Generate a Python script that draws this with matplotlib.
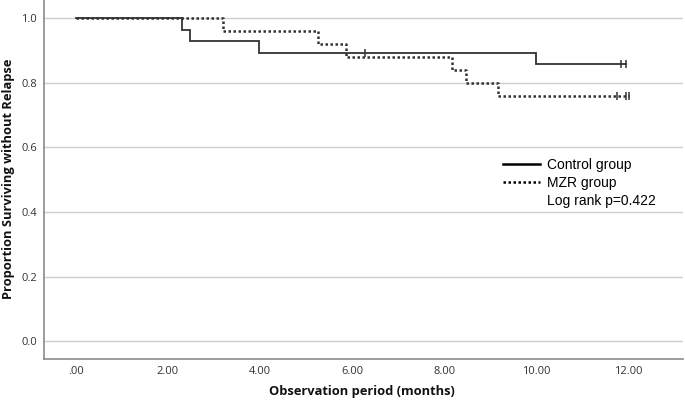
import matplotlib
matplotlib.use("Agg")
import matplotlib.pyplot as plt
from matplotlib.lines import Line2D

# Kaplan-Meier step data (months, survival)
control_times = [0.0, 2.30, 2.49, 3.99, 10.0, 11.95]
control_surv = [1.0, 0.964, 0.929, 0.893, 0.857, 0.857]
control_censor_t = [6.29, 11.85, 11.95]
control_censor_s = [0.893, 0.857, 0.857]

mzr_times = [0.0, 3.19, 5.27, 5.88, 8.18, 8.48, 9.18, 12.02]
mzr_surv = [1.0, 0.96, 0.92, 0.88, 0.84, 0.80, 0.76, 0.76]
mzr_censor_t = [11.75, 11.95, 12.02]
mzr_censor_s = [0.76, 0.76, 0.76]

xticks = [0, 2, 4, 6, 8, 10, 12]
xtick_labels = [".00", "2.00", "4.00", "6.00", "8.00", "10.00", "12.00"]
yticks = [0.0, 0.2, 0.4, 0.6, 0.8, 1.0]
ytick_labels = ["0.0", "0.2", "0.4", "0.6", "0.8", "1.0"]

W, H = 685, 401
fig = plt.figure(figsize=(W / 100, H / 100), dpi=100)
ax = fig.add_axes([44 / W, 1 - 359 / H, (683 - 44) / W, 359 / H])

ax.set_xlim(-0.69, 13.19)
ax.set_ylim(-0.0555, 1.0567)

for y in yticks:
    ax.axhline(y, color="#cfcfcf", lw=1.0, zorder=0)

line_col = "#333333"
ax.step(control_times, control_surv, where="post", color=line_col, lw=1.3,
        solid_joinstyle="miter")
ax.step(mzr_times, mzr_surv, where="post", color=line_col, lw=1.8,
        linestyle=(0, (1, 1)))
ax.plot(control_censor_t, control_censor_s, ls="none", marker="|",
        ms=6, mew=1.1, color=line_col)
ax.plot(mzr_censor_t, mzr_censor_s, ls="none", marker="|",
        ms=6, mew=1.1, color=line_col)

ax.set_xticks(xticks)
ax.set_xticklabels(xtick_labels)
ax.set_yticks(yticks)
ax.set_yticklabels(ytick_labels)
ax.tick_params(length=0, labelsize=8, labelcolor="#333333", pad=5)
for lab in ax.get_xticklabels() + ax.get_yticklabels():
    lab.set_family("Open Sans")

for s in ["top", "right"]:
    ax.spines[s].set_visible(False)
for s in ["left", "bottom"]:
    ax.spines[s].set_color("#8c8c8c")
    ax.spines[s].set_linewidth(1.2)

ax.set_xlabel("Observation period (months)", family="Open Sans",
              fontweight="bold", fontsize=9.3, color="#111111")
ax.xaxis.label.set_va("center")
ax.xaxis.set_label_coords((362 - 44) / 639, (359 - 391) / 359)
ax.set_ylabel("Proportion Surviving without Relapse", family="Open Sans",
              fontweight="bold", fontsize=9.3, color="#111111")
ax.yaxis.label.set_va("center")
ax.yaxis.set_label_coords((9 - 44) / 639, (359 - 179) / 359)

handles = [
    Line2D([], [], color="black", lw=1.8),
    Line2D([], [], color="black", lw=1.8, linestyle=(0, (1, 1))),
    Line2D([], [], ls="none"),
]
labels = ["Control group", "MZR group", "Log rank p=0.422"]
leg = fig.legend(handles, labels, loc="upper left",
                 bbox_to_anchor=(503 / W, 1 - 158 / H),
                 frameon=False, handlelength=2.65,
                 handletextpad=0.55, labelspacing=0.28, borderpad=0,
                 borderaxespad=0, prop={"family": "Liberation Sans", "size": 10})

fig.savefig("out.png", dpi=100)
